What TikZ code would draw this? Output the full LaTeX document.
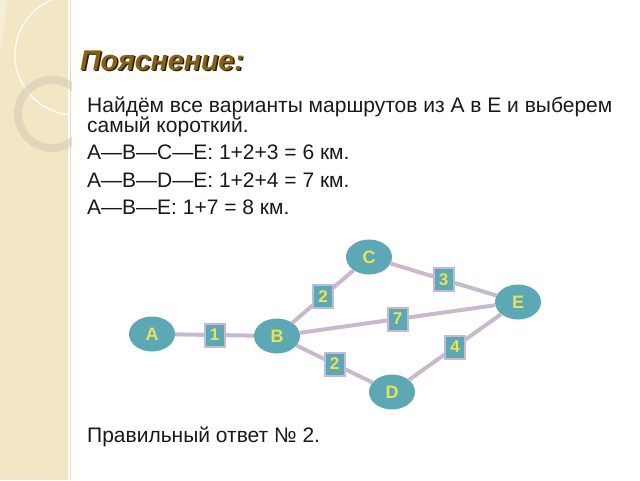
\documentclass[tikz,border=0pt]{standalone}
\usepackage{fontspec}
\setmainfont{Liberation Sans}
\usetikzlibrary{shapes.geometric}
\definecolor{strip}{RGB}{243,230,196}
\definecolor{ringc}{RGB}{218,208,184}
\definecolor{teal1}{RGB}{92,168,180}
\definecolor{yel}{RGB}{236,226,84}
\definecolor{edgec}{RGB}{200,186,204}
\definecolor{lblbd}{RGB}{196,186,214}
\definecolor{titc}{RGB}{134,98,16}
\definecolor{tsh}{RGB}{40,28,4}
\tikzset{
  city/.style={ellipse, fill=teal1, minimum width=46pt, minimum height=35pt, inner sep=0pt,
    text=yel, font=\fontsize{18}{18}\selectfont\bfseries},
  lbl/.style={rectangle, fill=teal1, draw=lblbd, line width=2pt, minimum width=20pt, minimum height=23pt,
    inner sep=0pt, text=yel, font=\fontsize{17}{17}\selectfont\bfseries},
  road/.style={draw=edgec, line width=4pt},
  body/.style={anchor=base west, inner sep=0pt, text=black!90, font=\fontsize{21}{21}\selectfont}
}
\begin{document}
\begin{tikzpicture}[x=1pt,y=-1pt]
\useasboundingbox (0,0) rectangle (640,480);
% left decorative strip
\fill[strip] (0,0) rectangle (68,480);
\draw[strip!85!black!60, line width=0.8pt] (70.5,0) -- (70.5,480);
\begin{scope}
  \clip (0,0) rectangle (68,480);
  \fill[white, opacity=0.35] (0,0) -- (51,0) arc[start angle=113.6, end angle=180, radius=60] -- (0,55) -- cycle;
  \draw[white, line width=1.2pt] (75,55) circle[radius=60];
\end{scope}
\begin{scope}
  \clip (0,0) rectangle (72,480);
  \draw[ringc, opacity=0.7, line width=8pt] (52,114) circle[radius=34];
\end{scope}
% title
\node[anchor=base west, inner sep=0pt, text=tsh, font=\fontsize{28.5}{28.5}\selectfont\bfseries\itshape] at (81.5,71.5) {Пояснение:};
\node[anchor=base west, inner sep=0pt, text=titc, font=\fontsize{28.5}{28.5}\selectfont\bfseries\itshape] (title) at (80,70) {Пояснение:};
% body text
\node[body] (t1) at (87,112) {Найдём все варианты маршрутов из А в Е и выберем};
\node[body] (t2) at (87,132) {самый короткий.};
\node[body] (t3) at (87,159) {А—В—С—Е: 1+2+3 = 6 км.};
\node[body] (t4) at (87,187) {А—В—D—Е: 1+2+4 = 7 км.};
\node[body] (t5) at (87,214) {А—В—Е: 1+7 = 8 км.};
\node[body] (t6) at (87,442) {Правильный ответ № 2.};
% graph
\node[city] (A) at (152,334) {A};
\node[city] (B) at (277,336) {B};
\node[city] (C) at (369,257) {C};
\node[city] (E) at (518,302) {E};
\node[city] (D) at (392,392) {D};
\path[road] (A) -- node[lbl] (l1) {1} (B);
\path[road] (B) -- node[lbl] (l2) {2} (C);
\path[road] (C) -- node[lbl] (l3) {3} (E);
\path[road] (B) -- node[lbl] (l7) {7} (E);
\path[road] (B) -- node[lbl] (l2b) {2} (D);
\path[road] (D) -- node[lbl] (l4) {4} (E);
\end{tikzpicture}
\end{document}
